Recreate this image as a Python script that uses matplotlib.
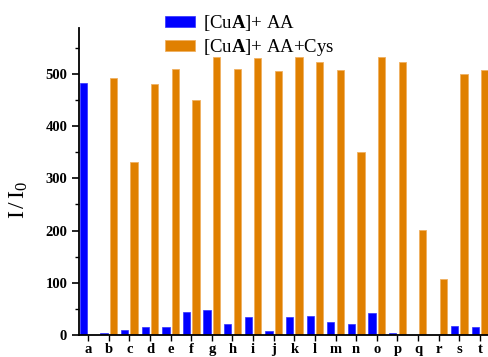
import matplotlib
matplotlib.use("Agg")
import matplotlib.pyplot as plt
import numpy as np
from matplotlib.ticker import MultipleLocator

categories = list("abcdefghijklmnopqrst")
aa = [483, 4, 9, 16, 16, 45, 48, 22, 35, 8, 34, 36, 25, 21, 43, 3, 0, 0, 17, 16]
aa_cys = [0, 493, 332, 480, 510, 451, 532, 510, 531, 505, 532, 523, 508, 350, 533, 523, 202, 108, 500, 507]
labels = [r'[Cu$\mathbf{A}$]+ AA', r'[Cu$\mathbf{A}$]+ AA+Cys']

plt.rcParams['font.family'] = ['Liberation Serif', 'DejaVu Serif']
plt.rcParams['mathtext.fontset'] = 'custom'
plt.rcParams['mathtext.rm'] = 'Liberation Serif'
plt.rcParams['mathtext.bf'] = 'Liberation Serif:bold'
plt.rcParams['mathtext.it'] = 'Liberation Serif:italic'

fig = plt.figure(figsize=(4.89, 3.57), dpi=100)
ax = fig.add_axes([0.1616, 0.0616, 0.8384, 0.86])

x = np.arange(len(categories))
w = 0.355
off = 0.23
ax.bar(x - off, aa, width=w, color='#0000FF', edgecolor='#3030FF', linewidth=0.5, label=labels[0])
ax.bar(x + off, aa_cys, width=w, color='#E08000', edgecolor='#F0B060', linewidth=0.6, label=labels[1])

ax.set_xlim(-0.44, 19.44)
ax.set_ylim(0, 588)
ax.set_xticks(x)
ax.set_xticklabels(categories, fontweight='bold', fontsize=10.5)
ax.yaxis.set_major_locator(MultipleLocator(100))
ax.yaxis.set_minor_locator(MultipleLocator(50))
for lab in ax.get_yticklabels():
    lab.set_fontweight('bold')
ax.tick_params(axis='y', which='major', labelsize=10.5, direction='out', length=5, width=1.2)
ax.tick_params(axis='y', which='minor', direction='out', length=3, width=1.0)
ax.tick_params(axis='x', which='major', direction='out', length=4, width=1.0, pad=2)
for s in ['top', 'right']:
    ax.spines[s].set_visible(False)
ax.spines['left'].set_linewidth(1.3)
ax.spines['bottom'].set_linewidth(1.3)

ax.set_ylabel(r'I$\,$/$\,$I$_0$', fontsize=17)
ax.yaxis.set_label_coords(-0.12, 0.44)

leg = fig.legend(loc='upper left', bbox_to_anchor=(0.314, 0.995), frameon=False,
                 fontsize=13.5, handlelength=1.6, handleheight=0.55, handletextpad=0.45,
                 labelspacing=0.2, borderaxespad=0.2)

fig.savefig('out.png', dpi=100)
